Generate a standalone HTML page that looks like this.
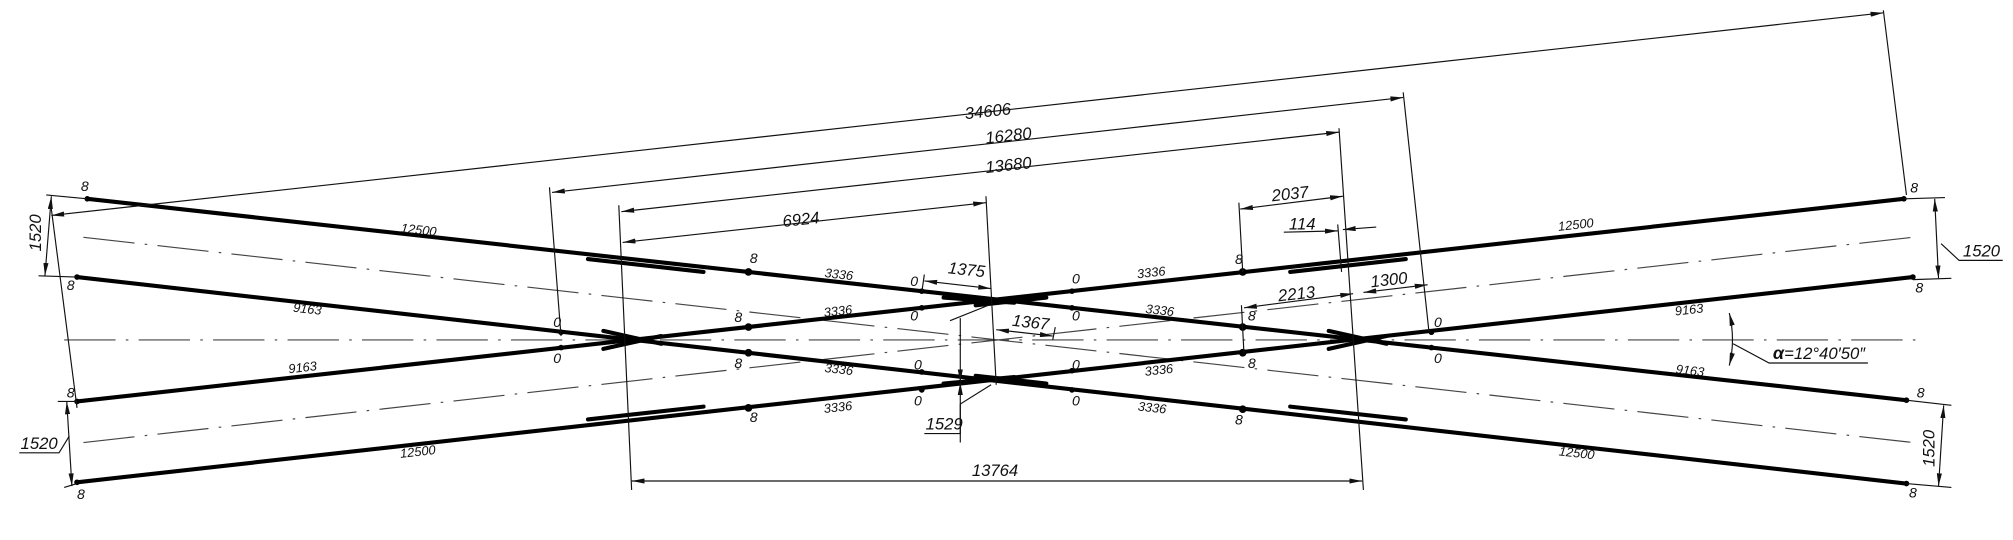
<!DOCTYPE html>
<html><head><meta charset="utf-8"><style>
html,body{margin:0;padding:0;background:#fff;}
svg{display:block;}
text{font-family:"Liberation Sans",sans-serif;font-style:italic;fill:#111;}
</style></head><body>
<svg width="2013" height="540" viewBox="0 0 1568 421" preserveAspectRatio="none" xmlns="http://www.w3.org/2000/svg">
<defs>
<marker id="a" viewBox="0 0 10 4" refX="10" refY="2" markerWidth="10" markerHeight="4" markerUnits="userSpaceOnUse" orient="auto-start-reverse"><path d="M0,0 L10,2 L0,4z" fill="#111"/></marker>
</defs>
<g stroke="#444" stroke-width="0.9" fill="none" stroke-dasharray="40,8,2,8">
<line x1="50" y1="265" x2="1500" y2="265"/>
<line x1="65" y1="185" x2="1490" y2="345"/>
<line x1="65" y1="345" x2="1490" y2="185"/>
</g>
<g stroke="#000" stroke-width="3.2" stroke-linecap="round">
<line x1="68" y1="155" x2="1485" y2="312"/>
<line x1="60" y1="313" x2="1483" y2="155"/>
<line x1="60" y1="216" x2="1485" y2="377"/>
<line x1="60" y1="376" x2="1490" y2="216"/>
<!-- guard rails -->
<line x1="458" y1="202" x2="548" y2="212"/>
<line x1="458" y1="327" x2="548" y2="317"/>
<line x1="1005" y1="212" x2="1095" y2="202"/>
<line x1="1005" y1="317" x2="1095" y2="327"/>
<!-- wing rails -->
<line x1="470" y1="258" x2="515" y2="268"/>
<line x1="470" y1="272" x2="515" y2="262"/>
<line x1="1035" y1="258" x2="1080" y2="268"/>
<line x1="1035" y1="272" x2="1080" y2="262"/>
<line x1="735" y1="232" x2="790" y2="236"/>
<line x1="760" y1="238" x2="815" y2="232"/>
<line x1="735" y1="299" x2="790" y2="294"/>
<line x1="760" y1="293" x2="815" y2="299"/>
</g>
<g fill="#000">
<circle cx="583" cy="212" r="3"/><circle cx="583" cy="255" r="3"/><circle cx="583" cy="275" r="3"/><circle cx="583" cy="318" r="3"/>
<circle cx="968" cy="212" r="3"/><circle cx="968" cy="255" r="3"/><circle cx="968" cy="275" r="3"/><circle cx="968" cy="319" r="3"/>
<circle cx="718" cy="227" r="2.2"/><circle cx="718" cy="240" r="2.2"/><circle cx="718" cy="290" r="2.2"/><circle cx="718" cy="304" r="2.2"/>
<circle cx="835" cy="227" r="2.2"/><circle cx="835" cy="240" r="2.2"/><circle cx="835" cy="289" r="2.2"/><circle cx="835" cy="304" r="2.2"/>
<circle cx="437" cy="259" r="2.2"/><circle cx="437" cy="271" r="2.2"/><circle cx="1115" cy="259" r="2.2"/><circle cx="1115" cy="271" r="2.2"/>
<circle cx="68" cy="155" r="2.2"/><circle cx="60" cy="216" r="2.2"/><circle cx="60" cy="313" r="2.2"/><circle cx="60" cy="376" r="2.2"/>
<circle cx="1483" cy="155" r="2.2"/><circle cx="1490" cy="216" r="2.2"/><circle cx="1485" cy="312" r="2.2"/><circle cx="1485" cy="377" r="2.2"/>
</g>
<g stroke="#111" stroke-width="0.9" fill="none">
<!-- extension lines -->
<line x1="40" y1="163" x2="60" y2="318"/>
<line x1="1467" y1="8" x2="1485" y2="152"/>
<line x1="428" y1="146" x2="437" y2="262"/>
<line x1="1093" y1="72" x2="1113" y2="258"/>
<line x1="482" y1="160" x2="492" y2="382"/>
<line x1="1043" y1="100" x2="1062" y2="382"/>
<line x1="768" y1="153" x2="776" y2="300"/>
<line x1="965" y1="158" x2="968" y2="212"/>
<line x1="967" y1="238" x2="969" y2="276"/>
<line x1="1042" y1="175" x2="1045" y2="212"/>
<line x1="720" y1="214" x2="718" y2="228"/>
<line x1="822" y1="255" x2="820" y2="265"/>
<line x1="36" y1="152" x2="68" y2="155"/>
<line x1="30" y1="215" x2="60" y2="216"/>
<line x1="45" y1="313" x2="60" y2="313"/>
<line x1="50" y1="380" x2="60" y2="377"/>
<line x1="1483" y1="155" x2="1515" y2="154"/>
<line x1="1490" y1="218" x2="1520" y2="217"/>
<line x1="1485" y1="312" x2="1520" y2="316"/>
<line x1="1485" y1="377" x2="1520" y2="380"/>
<!-- dims -->
<line x1="40" y1="168" x2="1467" y2="10" marker-start="url(#a)" marker-end="url(#a)"/>
<line x1="430" y1="150" x2="1093" y2="76" marker-start="url(#a)" marker-end="url(#a)"/>
<line x1="484" y1="165" x2="1043" y2="103" marker-start="url(#a)" marker-end="url(#a)"/>
<line x1="485" y1="189" x2="768" y2="158" marker-start="url(#a)" marker-end="url(#a)"/>
<line x1="492" y1="375" x2="1061" y2="375" marker-start="url(#a)" marker-end="url(#a)"/>
<line x1="966" y1="163" x2="1046" y2="153" marker-start="url(#a)" marker-end="url(#a)"/>
<line x1="1000" y1="181" x2="1042" y2="180" marker-end="url(#a)"/>
<line x1="1072" y1="177" x2="1046" y2="179" marker-end="url(#a)"/>
<line x1="720" y1="219" x2="772" y2="225" marker-start="url(#a)" marker-end="url(#a)"/>
<line x1="776" y1="257" x2="820" y2="262" marker-start="url(#a)" marker-end="url(#a)"/>
<line x1="969" y1="240" x2="1054" y2="229" marker-start="url(#a)" marker-end="url(#a)"/>
<line x1="1062" y1="228" x2="1112" y2="222" marker-start="url(#a)" marker-end="url(#a)"/>
<line x1="748" y1="262" x2="748" y2="298" marker-end="url(#a)"/>
<line x1="748" y1="345" x2="748" y2="298" marker-end="url(#a)"/>
<line x1="748" y1="262" x2="748" y2="248"/>
<line x1="740" y1="250" x2="770" y2="238"/>
<polyline points="720,338 748,338 748,315 772,300"/>
<line x1="40" y1="153" x2="35" y2="215" marker-start="url(#a)" marker-end="url(#a)"/>
<line x1="52" y1="313" x2="56" y2="379" marker-start="url(#a)" marker-end="url(#a)"/>
<polyline points="15,353 46,353 54,340"/>
<line x1="1507" y1="155" x2="1510" y2="217" marker-start="url(#a)" marker-end="url(#a)"/>
<polyline points="1512,190 1526,203 1560,203"/>
<line x1="1514" y1="316" x2="1510" y2="379" marker-start="url(#a)" marker-end="url(#a)"/>
<path d="M1347,244 Q1352,265 1347,285" marker-start="url(#a)" marker-end="url(#a)"/>
<polyline points="1350,268 1378,283 1455,283"/>
</g>
<g font-size="11">
<text x="63" y="149">8</text><text x="52" y="226">8</text><text x="52" y="310">8</text><text x="60" y="389">8</text>
<text x="1488" y="150">8</text><text x="1492" y="228">8</text><text x="1493" y="310">8</text><text x="1487" y="388">8</text>
<text x="584" y="205">8</text><text x="572" y="251">8</text><text x="572" y="287">8</text><text x="584" y="329">8</text>
<text x="962" y="206">8</text><text x="972" y="250">8</text><text x="972" y="287">8</text><text x="962" y="331">8</text>
<text x="709" y="223">0</text><text x="709" y="250">0</text><text x="712" y="288">0</text><text x="712" y="316">0</text>
<text x="835" y="221">0</text><text x="835" y="250">0</text><text x="835" y="288">0</text><text x="835" y="316">0</text>
<text x="431" y="255">0</text><text x="431" y="283">0</text><text x="1117" y="255">0</text><text x="1117" y="283">0</text>
</g>
<g font-size="10">
<text transform="translate(312,181) rotate(6.3)">12500</text>
<text transform="translate(228,243) rotate(6.3)">9163</text>
<text transform="translate(225,291) rotate(-6.3)">9163</text>
<text transform="translate(312,357) rotate(-6.3)">12500</text>
<text transform="translate(1214,180) rotate(-6.3)">12500</text>
<text transform="translate(1305,246) rotate(-6.3)">9163</text>
<text transform="translate(1305,291) rotate(6.3)">9163</text>
<text transform="translate(1214,355) rotate(6.3)">12500</text>
<text transform="translate(642,216) rotate(6.3)">3336</text>
<text transform="translate(642,247) rotate(-6.3)">3336</text>
<text transform="translate(642,290) rotate(6.3)">3336</text>
<text transform="translate(642,322) rotate(-6.3)">3336</text>
<text transform="translate(886,217) rotate(-6.3)">3336</text>
<text transform="translate(892,244) rotate(6.3)">3336</text>
<text transform="translate(892,293) rotate(-6.3)">3336</text>
<text transform="translate(886,320) rotate(6.3)">3336</text>
</g>
<g font-size="13">
<text transform="translate(752,93) rotate(-6.3)">34606</text>
<text transform="translate(768,112) rotate(-6.3)">16280</text>
<text transform="translate(768,135) rotate(-6.3)">13680</text>
<text transform="translate(610,177) rotate(-6.3)">6924</text>
<text x="757" y="371">13764</text>
<text transform="translate(991,157) rotate(-6.3)">2037</text>
<text x="1004" y="179">114</text>
<text transform="translate(738,213) rotate(6.3)">1375</text>
<text transform="translate(788,254) rotate(6.3)">1367</text>
<text transform="translate(996,235) rotate(-6.3)">2213</text>
<text transform="translate(1068,224) rotate(-6.3)">1300</text>
<text x="721" y="335">1529</text>
<text x="16" y="350">1520</text>
<text transform="translate(32,196) rotate(-90)">1520</text>
<text x="1529" y="200">1520</text>
<text transform="translate(1507,364) rotate(-90)">1520</text>
<text x="1381" y="280"><tspan font-weight="bold" font-size="14">α</tspan>=12°40′50″</text>
</g>
</svg>
</body></html>
